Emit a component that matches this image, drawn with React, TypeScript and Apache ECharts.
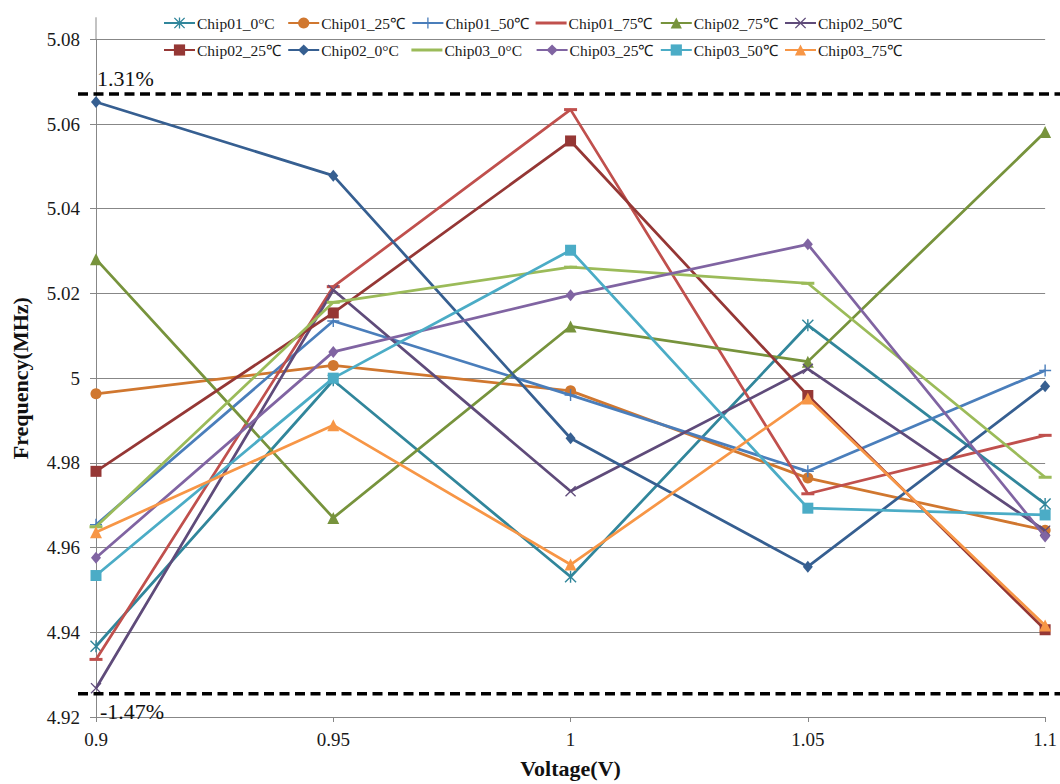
import React, { useEffect, useRef } from "react";
import * as echarts from "echarts";

// ---- data ----
const voltageLabels = ["0.9", "0.95", "1", "1.05", "1.1"];
const yMin = 4.92;
const yMax = 5.08;
const yInterval = 0.02;

const seriesNames = [
  "Chip01_0°C", "Chip01_25℃", "Chip01_50℃", "Chip01_75℃", "Chip02_75℃", "Chip02_50℃",
  "Chip02_25℃", "Chip02_0°C", "Chip03_0°C", "Chip03_25℃", "Chip03_50℃", "Chip03_75℃",
];

const chip01_0C = [4.9367, 4.9995, 4.9531, 5.0125, 4.9703];
const chip01_25C = [4.9963, 5.003, 4.997, 4.9764, 4.9641];
const chip01_50C = [4.9654, 5.0135, 4.996, 4.978, 5.0018];
const chip01_75C = [4.9336, 5.0216, 5.0634, 4.9727, 4.9865];
const chip02_75C = [5.0281, 4.967, 5.0122, 5.0039, 5.0581];
const chip02_50C = [4.9268, 5.0208, 4.9733, 5.0022, 4.964];
const chip02_25C = [4.978, 5.0154, 5.056, 4.9959, 4.9406];
const chip02_0C = [5.0652, 5.0478, 4.9858, 4.9555, 4.9981];
const chip03_0C = [4.9649, 5.0179, 5.0262, 5.0224, 4.9766];
const chip03_25C = [4.9576, 5.0062, 5.0196, 5.0316, 4.9626];
const chip03_50C = [4.9534, 5.0, 5.0302, 4.9693, 4.9677];
const chip03_75C = [4.9636, 4.9889, 4.956, 4.9952, 4.9416];

const seriesValues = [
  chip01_0C, chip01_25C, chip01_50C, chip01_75C, chip02_75C, chip02_50C,
  chip02_25C, chip02_0C, chip03_0C, chip03_25C, chip03_50C, chip03_75C,
];

const upperLimit = 5.0671;
const lowerLimit = 4.9255;
const upperLabel = "1.31%";
const lowerLabel = "-1.47%";

// ---- styles ----
const colors = [
  "#31869B", "#D0772F", "#4A7EBB", "#C0504D", "#77933C", "#5F4B7A",
  "#953735", "#365F91", "#9BBB59", "#8064A2", "#4BACC6", "#F79646",
];

const SYM_STAR =
  "path://M0,1 L1,0 L6,5 L11,0 L12,1 L7,6 L12,11 L11,12 L6,7 L1,12 L0,11 L5,6 Z M5.3,0 L6.7,0 L6.7,12 L5.3,12 Z";
const SYM_PLUS =
  "path://M5.3,0 L6.7,0 L6.7,5.3 L12,5.3 L12,6.7 L6.7,6.7 L6.7,12 L5.3,12 L5.3,6.7 L0,6.7 L0,5.3 L5.3,5.3 Z";
const SYM_X =
  "path://M0,1 L1,0 L6,5 L11,0 L12,1 L7,6 L12,11 L11,12 L6,7 L1,12 L0,11 L5,6 Z";
const SYM_DASH = "path://M0,0 L12,0 L12,2.5 L0,2.5 Z";
const LEGEND_DASH = "path://M0,0 L31,0 L31,3 L0,3 Z";

const symbols = [
  SYM_STAR, "circle", SYM_PLUS, SYM_DASH, "triangle", SYM_X,
  "rect", "diamond", SYM_DASH, "diamond", "rect", "triangle",
];
const symbolSizes: any[] = [
  12, 11, 12, [13, 3], 12, 11,
  11, [10, 12], [13, 3], [10, 12], 11, 12,
];

const serif = "Liberation Serif, Times New Roman, serif";
const axisGray = "#878787";

export default function App() {
  const ref = useRef<HTMLDivElement>(null);

  useEffect(() => {
    if (!ref.current) return;
    const chart = echarts.init(ref.current, undefined, { renderer: "svg" });

    const legends = seriesNames.map((name, i) => ({
      data: [symbols[i] === SYM_DASH ? { name, icon: LEGEND_DASH } : name],
      left: 163 + (i % 6) * 124.2,
      top: i < 6 ? 15 : 42,
      padding: 0,
      itemWidth: 31,
      itemHeight: 14,
      itemGap: 0,
      selectedMode: false,
      textStyle: { fontFamily: serif, fontSize: 15.5, color: "#1a1a1a", padding: [0, 0, 0, -3] },
    }));

    const series = seriesNames.map((name, i) => ({
      name,
      type: "line",
      data: seriesValues[i],
      symbol: symbols[i],
      symbolSize: symbolSizes[i],
      showSymbol: true,
      lineStyle: { color: colors[i], width: 2.75 },
      itemStyle: { color: colors[i] },
      emphasis: { disabled: true },
      z: 2 + i,
    }));

    chart.setOption({
      animation: false,
      backgroundColor: "#ffffff",
      color: colors,
      grid: { left: 96, right: 11, top: 39.3, bottom: 62.3, containLabel: false },
      legend: legends,
      xAxis: {
        type: "category",
        data: voltageLabels,
        boundaryGap: false,
        name: "Voltage(V)",
        nameLocation: "middle",
        nameGap: 40,
        nameTextStyle: { fontFamily: serif, fontSize: 22, fontWeight: "bold", color: "#111" },
        axisLine: { show: true, lineStyle: { color: axisGray, width: 1 } },
        axisTick: { show: true, alignWithLabel: true, length: 5, lineStyle: { color: axisGray } },
        axisLabel: { fontFamily: serif, fontSize: 19, color: "#1a1a1a", margin: 13 },
        splitLine: { show: false },
      },
      yAxis: {
        type: "value",
        min: yMin,
        max: yMax,
        interval: yInterval,
        name: "Frequency(MHz)",
        nameLocation: "middle",
        nameGap: 65,
        nameTextStyle: { fontFamily: serif, fontSize: 22, fontWeight: "bold", color: "#111" },
        axisLine: { show: true, lineStyle: { color: axisGray, width: 1 } },
        axisTick: { show: true, length: 6, lineStyle: { color: axisGray } },
        axisLabel: {
          fontFamily: serif,
          fontSize: 19,
          color: "#1a1a1a",
          margin: 16,
          formatter: (v: number) => String(parseFloat(v.toFixed(2))),
        },
        splitLine: { show: true, lineStyle: { color: axisGray, width: 1 } },
      },
      series,
    });

    const yU = chart.convertToPixel({ yAxisIndex: 0 }, upperLimit) as number;
    const yL = chart.convertToPixel({ yAxisIndex: 0 }, lowerLimit) as number;
    const yTop = chart.convertToPixel({ yAxisIndex: 0 }, yMax) as number;
    const xAxisPos = chart.convertToPixel({ xAxisIndex: 0 }, voltageLabels[0]) as number;
    const chartW = chart.getWidth();

    const dashStyle = { stroke: "#000", lineWidth: 3.5, lineDash: [10, 5.5] };
    chart.setOption({
      graphic: [
        {
          type: "line",
          shape: { x1: xAxisPos, y1: yTop - 22, x2: xAxisPos, y2: yTop },
          style: { stroke: axisGray, lineWidth: 1 },
          z: 1,
        },
        {
          type: "line",
          shape: { x1: xAxisPos - 18, y1: yU, x2: chartW, y2: yU },
          style: dashStyle,
          z: 50,
        },
        {
          type: "line",
          shape: { x1: xAxisPos - 18, y1: yL, x2: chartW, y2: yL },
          style: dashStyle,
          z: 50,
        },
        {
          type: "text",
          x: xAxisPos + 1,
          y: yU - 15,
          style: { text: upperLabel, fontFamily: serif, fontSize: 22, fill: "#111", verticalAlign: "middle" },
          z: 50,
        },
        {
          type: "text",
          x: xAxisPos + 4,
          y: yL + 17.5,
          style: { text: lowerLabel, fontFamily: serif, fontSize: 22, fill: "#111", verticalAlign: "middle" },
          z: 50,
        },
      ],
    });

    return () => chart.dispose();
  }, []);

  return (
    <div
      ref={ref}
      style={{ position: "absolute", left: 0, top: 0, width: 1060, height: 784, background: "#fff" }}
    />
  );
}
